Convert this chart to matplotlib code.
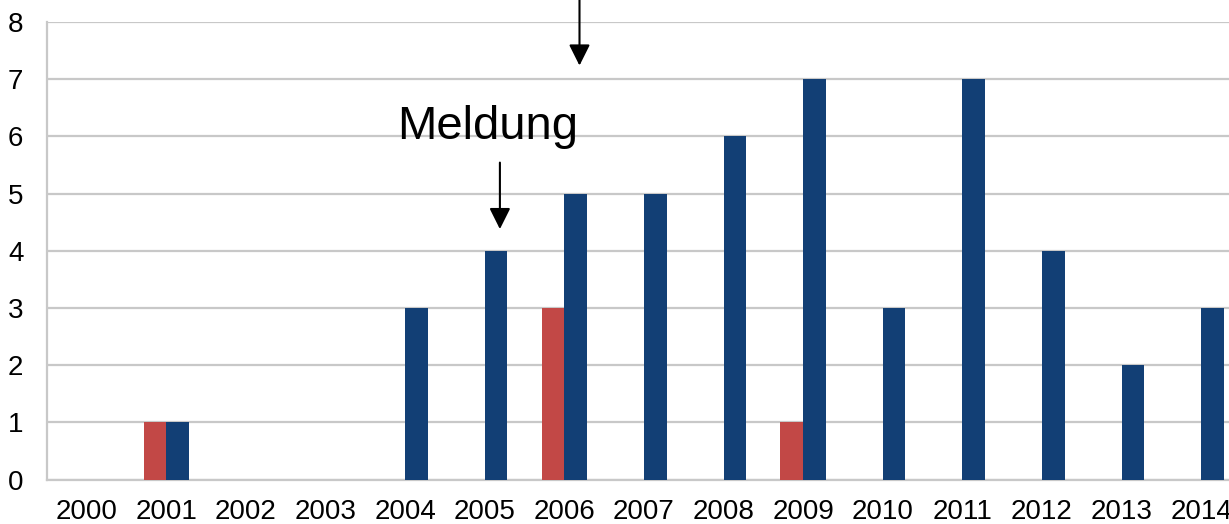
import matplotlib
matplotlib.use("Agg")
import matplotlib.pyplot as plt
import numpy as np

years = [str(y) for y in range(2000, 2015)]
red_values = [0, 1, 0, 0, 0, 0, 3, 0, 0, 1, 0, 0, 0, 0, 0]
blue_values = [0, 1, 0, 0, 3, 4, 5, 5, 6, 7, 3, 7, 4, 2, 3]
y_ticks = list(range(0, 9))
annotation_text = "Meldung"

plt.rcParams['font.family'] = ['Liberation Sans', 'DejaVu Sans']

fig = plt.figure(figsize=(12.29, 5.24), dpi=100)
ax = fig.add_axes([47/1229, 1-479.5/524, 1-47/1229, (479.5-22)/524])

x = np.arange(len(years))
w = 0.285
ax.bar(x - w/2, red_values, width=w, color='#C24846', zorder=3, linewidth=0)
ax.bar(x + w/2, blue_values, width=w, color='#123F75', zorder=3, linewidth=0)

ax.set_xlim(-0.5, 14.35)
ax.set_ylim(0, 8)
ax.set_yticks(y_ticks)
ax.set_xticks(x)
ax.set_xticklabels(years)
ax.tick_params(axis='both', length=0, labelsize=20, colors='black')
ax.tick_params(axis='y', pad=17)
ax.tick_params(axis='x', pad=14)
ax.grid(axis='y', color='#C8C8C8', linewidth=1.6, zorder=4)
for s in ['top', 'right']:
    ax.spines[s].set_visible(False)
for s in ['left', 'bottom']:
    ax.spines[s].set_color('#C8C8C8')
    ax.spines[s].set_linewidth(1.6)

ax.text(5.03, 5.95, annotation_text, fontsize=34, ha='center', va='baseline', zorder=2)
ax.annotate('', xy=(5.19, 4.33), xytext=(5.19, 5.59),
            arrowprops=dict(arrowstyle='-|>', color='black', lw=1.5, mutation_scale=32),
            zorder=5)
ax.annotate('', xy=(6.19, 7.19), xytext=(6.19, 8.5),
            arrowprops=dict(arrowstyle='-|>', color='black', lw=1.5, mutation_scale=32),
            annotation_clip=False, zorder=5)

fig.savefig('out.png', dpi=100)
